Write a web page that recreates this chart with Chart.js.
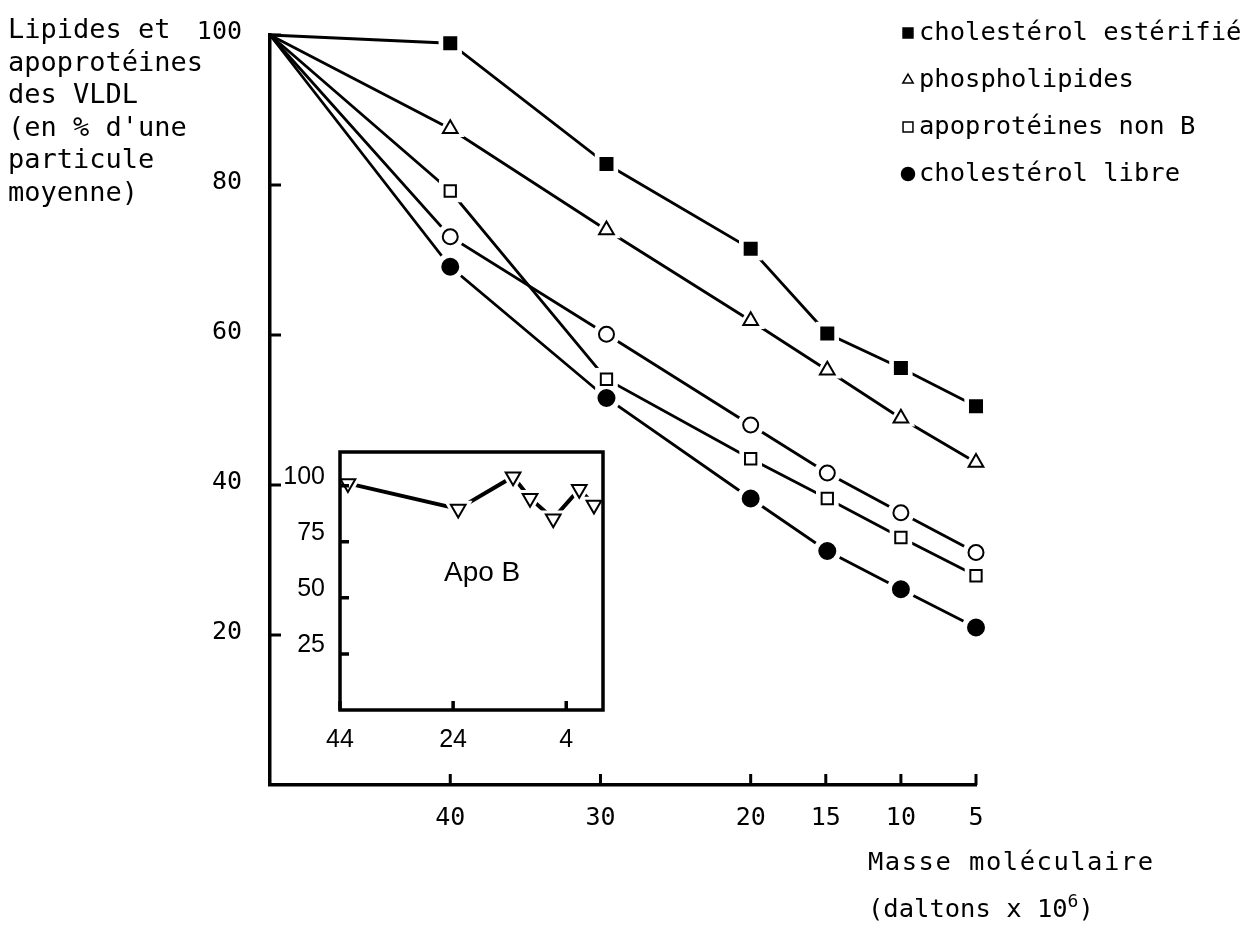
<!DOCTYPE html>
<html lang="fr">
<head>
<meta charset="utf-8">
<title>Lipides et apoprotéines des VLDL</title>
<script src="https://cdn.jsdelivr.net/npm/chart.js@4.4.1/dist/chart.umd.min.js"></script>
<style>
  html, body { margin: 0; padding: 0; background: #fff; }
  #wrap { position: relative; width: 1259px; height: 930px; overflow: hidden; background: #fff; }
  #main { position: absolute; left: 0; top: 0; }
  #inset { position: absolute; left: 280px; top: 430px; }
  .txt { position: absolute; color: #000; white-space: pre; }
  .mono { font-family: 'DejaVu Sans Mono', monospace; }
  #ytitle { left: 8px; top: 13px; font-size: 27px; line-height: 32.5px; }
  #xtitle { left: 868px; top: 838px; font-size: 25.5px; line-height: 47px; }
  #xtitle .l1 { letter-spacing: 1.5px; }
  #xtitle sup { font-size: 18px; vertical-align: 0.55em; line-height: 0; }
  #apob { left: 444px; top: 556px; font-family: 'Liberation Sans', Arial, sans-serif; font-size: 28px; line-height: 32px; }
</style>
</head>
<body>
<div id="wrap">
  <canvas id="main" width="1259" height="930"></canvas>
  <canvas id="inset" width="345" height="330"></canvas>
  <div class="txt mono" id="ytitle">Lipides et
apoprotéines
des VLDL
(en % d'une
particule
moyenne)</div>
  <div class="txt mono" id="xtitle"><span class="l1">Masse moléculaire</span>
(daltons x 10<sup>6</sup>)</div>
  <div class="txt" id="apob">Apo B</div>
</div>

<script>
/* ── VLDL lipid / apoprotein content vs particle mass ─────────────────────── */

// ── Main chart, values ──────────────────────────────────────────────────────
const MASSES      = [52, 40, 29.6, 20, 14.9, 10, 5];          // daltons x 10^6
const CHOL_ESTER  = [100, 98.9, 82.8, 71.5, 60.2, 55.6, 50.5];
const PHOSPHO     = [100, 87.5, 74.0, 61.9, 55.3, 48.9, 43.0];
const APO_NON_B   = [100, 79.2, 54.1, 43.5, 38.2, 33.0, 27.9];
const OPEN_CIRCLE = [100, 73.1, 60.1, 48.0, 41.6, 36.3, 31.0];
const CHOL_LIBRE  = [100, 69.1, 51.6, 38.2, 31.2, 26.1, 21.0];

const X_TICKS = [40, 30, 20, 15, 10, 5];
const Y_TICKS = [20, 40, 60, 80, 100];

// ── Inset: apo B ────────────────────────────────────────────────────────────
const APOB_MASSES = [42.6, 23.1, 13.4, 10.4, 6.3, 1.7, -0.9];
const APOB_VALUES = [101, 89.6, 104, 94.4, 85.3, 98.4, 91.4];
const INSET_X_TICKS = [44, 24, 4];
const INSET_Y_TICKS = [25, 50, 75, 100];

const SERIES = [
  { label: 'cholestérol estérifié', values: CHOL_ESTER,  style: 'rect',     filled: true,  r: 8.5, halo: 8, lr: 7 },
  { label: 'phospholipides',        values: PHOSPHO,     style: 'triangle', filled: false, r: 8.5, halo: 8, lr: 6 },
  { label: 'apoprotéines non B',    values: APO_NON_B,   style: 'rect',     filled: false, r: 8,   halo: 8, lr: 7 },
  { label: '',                      values: OPEN_CIRCLE, style: 'circle',   filled: false, r: 7.5, halo: 6, lr: 6 },
  { label: 'cholestérol libre',     values: CHOL_LIBRE,  style: 'circle',   filled: true,  r: 8,   halo: 6, lr: 6.5 },
];

const MONO = "'DejaVu Sans Mono', monospace";
const SANS = "'Liberation Sans', Arial, sans-serif";

// ── Plugins: inward tick marks (+ optional box) and a side legend ──────────
const innerTicks = {
  id: 'innerTicks',
  afterDraw(chart, args, opts) {
    const { ctx, chartArea: a, scales } = chart;
    ctx.save();
    ctx.strokeStyle = '#000';
    ctx.lineWidth = opts.width;
    ctx.beginPath();
    scales.x.ticks.forEach(t => {
      const px = scales.x.getPixelForValue(t.value);
      ctx.moveTo(px, a.bottom);
      ctx.lineTo(px, a.bottom - opts.len);
    });
    scales.y.ticks.forEach(t => {
      const py = scales.y.getPixelForValue(t.value);
      ctx.moveTo(a.left, py);
      ctx.lineTo(a.left + opts.len, py);
    });
    ctx.stroke();
    if (opts.box) ctx.strokeRect(a.left, a.top, a.right - a.left, a.bottom - a.top);
    ctx.restore();
  }
};

const sideLegend = {
  id: 'sideLegend',
  afterDraw(chart, args, opts) {
    const { ctx } = chart;
    ctx.save();
    ctx.font = opts.font;
    ctx.textBaseline = 'middle';
    let row = 0;
    chart.data.datasets.forEach(ds => {
      if (!ds.label) return;
      const y = opts.top + row * opts.rowGap;
      ctx.fillStyle = ds.pointBackgroundColor;
      ctx.strokeStyle = '#000';
      ctx.lineWidth = 1.5;
      Chart.helpers.drawPoint(ctx, { pointStyle: ds.pointStyle, radius: ds.legendRadius, borderWidth: 1.5, rotation: 0 }, opts.left, y);
      ctx.fillStyle = '#000';
      ctx.fillText(ds.label, opts.left + opts.gap, y);
      row++;
    });
    ctx.restore();
  }
};

// line + white halo under each marker, so the line stops short of it
function lineSet(xs, ys, s, width, rot) {
  return {
    data: xs.map((x, i) => ({ x, y: ys[i] })),
    showLine: true,
    borderColor: '#000',
    borderWidth: width,
    pointStyle: s.style,
    pointRotation: rot,
    pointRadius: c => (xs === MASSES && c.dataIndex === 0) ? 0 : s.r + s.halo,
    pointBackgroundColor: '#fff',
    pointBorderWidth: 0,
    pointBorderColor: '#fff',
    clip: false,
    order: 2,
  };
}

function markerSet(xs, ys, s, rot) {
  return {
    label: s.label,
    data: xs.map((x, i) => ({ x, y: ys[i] })),
    showLine: false,
    pointStyle: s.style,
    pointRotation: rot,
    pointRadius: c => (xs === MASSES && c.dataIndex === 0) ? 0 : s.r,
    pointBackgroundColor: s.filled ? '#000' : '#fff',
    pointBorderColor: '#000',
    pointBorderWidth: 2,
    legendRadius: s.lr,
    clip: false,
    order: 1,
  };
}

function fixedTicks(list) {
  return sc => { sc.ticks = list.map(v => ({ value: v })); };
}

// ── Main chart ──────────────────────────────────────────────────────────────
new Chart(document.getElementById('main'), {
  type: 'scatter',
  data: {
    datasets: [
      ...SERIES.map(s => lineSet(MASSES, s.values, s, 2.8, 0)),
      ...SERIES.map(s => markerSet(MASSES, s.values, s, 0)),
    ],
  },
  options: {
    responsive: false,
    animation: false,
    events: [],
    layout: { padding: { left: 0, top: 33, right: 283, bottom: 0 } },
    plugins: {
      legend: { display: false },
      tooltip: { enabled: false },
      innerTicks: { len: 11, width: 3 },
      sideLegend: { left: 908, top: 33, rowGap: 47, gap: 11, font: `25.5px ${MONO}` },
    },
    scales: {
      x: {
        type: 'linear',
        reverse: true,
        min: 5,
        max: 52,
        afterBuildTicks: fixedTicks(X_TICKS),
        afterFit: sc => { sc.height = 145; },
        grid: { display: false },
        border: { display: true, color: '#000', width: 3.5 },
        ticks: { color: '#000', font: { family: MONO, size: 25 }, padding: 10, maxRotation: 0, autoSkip: false },
      },
      y: {
        min: 0,
        max: 100,
        afterBuildTicks: fixedTicks(Y_TICKS),
        afterFit: sc => { sc.width = 270; },
        grid: { display: false },
        border: { display: true, color: '#000', width: 3.5 },
        ticks: { color: '#000', font: { family: MONO, size: 25 }, padding: 20, labelOffset: -3 },
      },
    },
  },
  plugins: [innerTicks, sideLegend],
});

// ── Inset chart (apo B) ─────────────────────────────────────────────────────
const APOB = { label: '', style: 'triangle', filled: false, r: 8.5, halo: 8, lr: 6 };

new Chart(document.getElementById('inset'), {
  type: 'scatter',
  data: {
    datasets: [
      lineSet(APOB_MASSES, APOB_VALUES, APOB, 4, 180),
      markerSet(APOB_MASSES, APOB_VALUES, APOB, 180),
    ],
  },
  options: {
    responsive: false,
    animation: false,
    events: [],
    layout: { padding: { left: 0, top: 17, right: 22, bottom: 0 } },
    plugins: {
      legend: { display: false },
      tooltip: { enabled: false },
      innerTicks: { len: 9, width: 3.5, box: true },
    },
    scales: {
      x: {
        type: 'linear',
        reverse: true,
        min: -2.5,
        max: 44,
        afterBuildTicks: fixedTicks(INSET_X_TICKS),
        afterFit: sc => { sc.height = 50; },
        grid: { display: false },
        border: { display: false },
        ticks: { color: '#000', font: { family: SANS, size: 25 }, padding: 7, maxRotation: 0, autoSkip: false },
      },
      y: {
        min: 0,
        max: 115,
        afterBuildTicks: fixedTicks(INSET_Y_TICKS),
        afterFit: sc => { sc.width = 60; },
        grid: { display: false },
        border: { display: false },
        ticks: { color: '#000', font: { family: SANS, size: 25 }, padding: 7, labelOffset: -9 },
      },
    },
  },
  plugins: [innerTicks],
});
</script>
</body>
</html>
